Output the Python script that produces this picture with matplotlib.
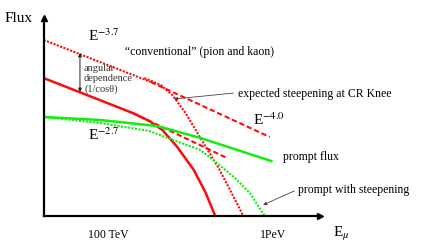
import numpy as np
import matplotlib
matplotlib.use("Agg")
import matplotlib.pyplot as plt

plt.rcParams['font.family'] = ['Liberation Serif', 'DejaVu Serif']
plt.rcParams['mathtext.fontset'] = 'stix'

# x: log10(E / GeV), y: log10(flux) in arbitrary units
conv_top_e = [4.61, 5.26, 5.98]
conv_top_f = [1.067, 0.812, 0.479]
conv_top_steep_e = [5.22, 5.32, 5.39, 5.47, 5.56, 5.67, 5.74, 5.82]
conv_top_steep_f = [0.836, 0.794, 0.733, 0.624, 0.473, 0.291, 0.158, 0.0]

conv_e = [4.61, 5.15, 5.25, 5.33, 5.42, 5.52, 5.59, 5.65]
conv_f = [0.836, 0.624, 0.576, 0.521, 0.418, 0.279, 0.145, 0.0]
conv_knee_e = [5.15, 5.72]
conv_knee_f = [0.624, 0.352]

prompt_e = [4.61, 4.95, 5.30, 5.56, 5.99]
prompt_f = [0.600, 0.582, 0.545, 0.473, 0.333]
prompt_steep_e = [4.61, 4.95, 5.25, 5.41, 5.56, 5.66, 5.77, 5.86, 5.95]
prompt_steep_f = [0.600, 0.564, 0.515, 0.455, 0.400, 0.321, 0.230, 0.139, 0.0]

xticks = [5, 6]
xticklabels = ["100 TeV", "1PeV"]

red = '#ff0a0a'
green = '#10ee10'
dot = (0, (1, 0.7))
dash = (0, (2.5, 1.4))

fig = plt.figure(figsize=(4.21, 2.44), dpi=100)
ax = fig.add_axes([44/421, 28/244, 276/421, 198/244])
ax.set_xlim(4.612, 6.285)
ax.set_ylim(0, 1.2)

ax.plot(conv_top_e[:2], conv_top_f[:2], color=red, lw=1.5, ls=dot)
ax.plot(conv_top_e[1:], conv_top_f[1:], color=red, lw=1.5, ls=dash)
ax.plot(conv_top_steep_e, conv_top_steep_f, color=red, lw=1.5, ls=dot)
ax.plot(conv_e, conv_f, color=red, lw=1.8)
ax.plot(conv_knee_e, conv_knee_f, color=red, lw=1.5, ls=dash)
ax.plot(prompt_e, prompt_f, color=green, lw=1.8)
ax.plot(prompt_steep_e, prompt_steep_f, color=green, lw=1.5, ls=dot)

for s in ['top', 'right']:
    ax.spines[s].set_visible(False)
for s in ['left', 'bottom']:
    ax.spines[s].set_linewidth(1.6)
ax.set_yticks([])
ax.set_xticks(xticks)
ax.set_xticklabels(xticklabels, fontsize=8.5)
ax.tick_params(axis='x', length=0, pad=9)
ax.plot([1], [0], '>k', ms=4, transform=ax.transAxes, clip_on=False)
ax.plot([0], [1], '^k', ms=4, transform=ax.transAxes, clip_on=False)

fig.text(5/421, 1 - 22/244, "Flux", fontsize=11)
fig.text(333/421, 1 - 237/244, r"E$_\mu$", fontsize=11)

ax.text(4.88, 1.06, r"E$^{-3.7}$", fontsize=11)
ax.text(4.88, 0.46, r"E$^{-2.7}$", fontsize=11)
ax.text(5.88, 0.55, r"E$^{-4.0}$", fontsize=11)

ax.annotate("", xy=(4.83, 0.988), xytext=(4.83, 0.752),
            arrowprops=dict(arrowstyle='<|-|>', color='#222222', lw=0.7,
                            mutation_scale=5, shrinkA=0, shrinkB=0))
ax.text(4.855, 0.83, "angular\ndependence\n(1/cos\u03b8)", fontsize=7.5,
        color='#333333', va='center', linespacing=1.2)

ax.text(5.1, 0.975, "\u201cconventional\u201d (pion and kaon)", fontsize=8.5)
ax.text(5.79, 0.74, "expected steepening at CR Knee", fontsize=8.5, va='center')
ax.annotate("", xy=(5.40, 0.709), xytext=(5.76, 0.745),
            arrowprops=dict(arrowstyle='-|>', color='#444444', lw=0.6,
                            mutation_scale=5, shrinkA=0, shrinkB=0))
ax.text(6.06, 0.36, "prompt flux", fontsize=8.5, va='center')
ax.text(6.15, 0.16, "prompt with steepening", fontsize=8.5, va='center')
ax.annotate("", xy=(5.94, 0.067), xytext=(6.13, 0.152),
            arrowprops=dict(arrowstyle='-|>', color='#444444', lw=0.6,
                            mutation_scale=5, shrinkA=0, shrinkB=0))

fig.savefig("out.png", dpi=100)
